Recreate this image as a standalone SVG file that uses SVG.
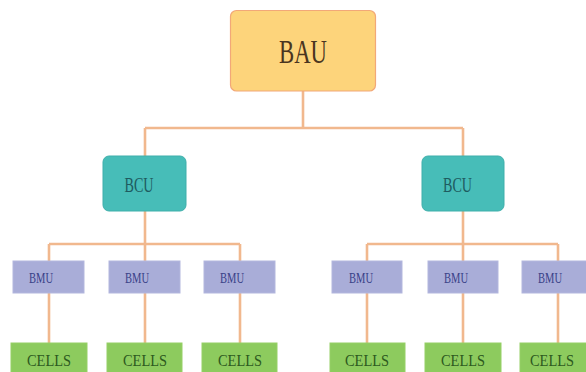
<svg xmlns="http://www.w3.org/2000/svg" width="586" height="372" viewBox="0 0 586 372">
<style>
.bg{fill:#ffffff}
.ln{fill:none;stroke:#F1B88E;stroke-width:2.6}
.bau{fill:#FDD47B;stroke:#F2A878;stroke-width:1.2}
.bcu{fill:#47BDB8;stroke:#3FAFAB;stroke-width:1}
.bmu{fill:#A9ADD8;stroke:#B3B7DE;stroke-width:1}
.cel{fill:#8DCB5E;stroke:#96D066;stroke-width:1}
text{font-family:"Liberation Serif","Times New Roman",serif;text-anchor:middle}
.t-bau{font-size:33.5px;fill:#4A3520}
.t-bcu{font-size:21px;fill:#1E5B60}
.t-bmu{font-size:15px;fill:#3A4288}
.t-cel{font-size:16.5px;fill:#2D5A1E}
</style>
<rect class="bg" x="0" y="0" width="586" height="372"/>
<g id="connectors">
<path class="ln" d="M303 91V128M145 128H463M145 128V156M463 128V156"/>
<path class="ln" d="M145 211V244M49 244H240M49 244V261M145 244V261M240 244V261"/>
<path class="ln" d="M463 211V244M367 244H558M367 244V261M463 244V261M558 244V261"/>
<path class="ln" d="M49 293V343M145 293V343M240 293V343M367 293V343M463 293V343M558 293V343"/>
</g>
<g id="bau"><rect class="bau" x="230.5" y="10.5" width="145" height="80.5" rx="6"/><text class="t-bau" x="303" y="63" textLength="48" lengthAdjust="spacingAndGlyphs">BAU</text></g>
<g id="bcu1"><rect class="bcu" x="103" y="156" width="83" height="55" rx="6"/><text class="t-bcu" x="139" y="192" textLength="29" lengthAdjust="spacingAndGlyphs">BCU</text></g>
<g id="bcu2"><rect class="bcu" x="422" y="156" width="82" height="55" rx="6"/><text class="t-bcu" x="457.5" y="192" textLength="29" lengthAdjust="spacingAndGlyphs">BCU</text></g>
<g id="bmu1"><rect class="bmu" x="13" y="261" width="71" height="32"/><text class="t-bmu" x="41" y="283" textLength="24" lengthAdjust="spacingAndGlyphs">BMU</text></g>
<g id="bmu2"><rect class="bmu" x="109" y="261" width="71" height="32"/><text class="t-bmu" x="137" y="283" textLength="24" lengthAdjust="spacingAndGlyphs">BMU</text></g>
<g id="bmu3"><rect class="bmu" x="204" y="261" width="71" height="32"/><text class="t-bmu" x="232" y="283" textLength="24" lengthAdjust="spacingAndGlyphs">BMU</text></g>
<g id="bmu4"><rect class="bmu" x="332" y="261" width="70" height="32"/><text class="t-bmu" x="361" y="283" textLength="24" lengthAdjust="spacingAndGlyphs">BMU</text></g>
<g id="bmu5"><rect class="bmu" x="428" y="261" width="70" height="32"/><text class="t-bmu" x="456" y="283" textLength="24" lengthAdjust="spacingAndGlyphs">BMU</text></g>
<g id="bmu6"><rect class="bmu" x="522" y="261" width="70" height="32"/><text class="t-bmu" x="550" y="283" textLength="24" lengthAdjust="spacingAndGlyphs">BMU</text></g>
<g id="cells1"><rect class="cel" x="11" y="343" width="76" height="34"/><text class="t-cel" x="49" y="365.5" textLength="44" lengthAdjust="spacingAndGlyphs">CELLS</text></g>
<g id="cells2"><rect class="cel" x="107" y="343" width="75" height="34"/><text class="t-cel" x="145" y="365.5" textLength="44" lengthAdjust="spacingAndGlyphs">CELLS</text></g>
<g id="cells3"><rect class="cel" x="202" y="343" width="75" height="34"/><text class="t-cel" x="240" y="365.5" textLength="44" lengthAdjust="spacingAndGlyphs">CELLS</text></g>
<g id="cells4"><rect class="cel" x="330" y="343" width="75" height="34"/><text class="t-cel" x="367" y="365.5" textLength="44" lengthAdjust="spacingAndGlyphs">CELLS</text></g>
<g id="cells5"><rect class="cel" x="425" y="343" width="76" height="34"/><text class="t-cel" x="463" y="365.5" textLength="44" lengthAdjust="spacingAndGlyphs">CELLS</text></g>
<g id="cells6"><rect class="cel" x="520" y="343" width="72" height="34"/><text class="t-cel" x="552" y="365.5" textLength="44" lengthAdjust="spacingAndGlyphs">CELLS</text></g>
</svg>
